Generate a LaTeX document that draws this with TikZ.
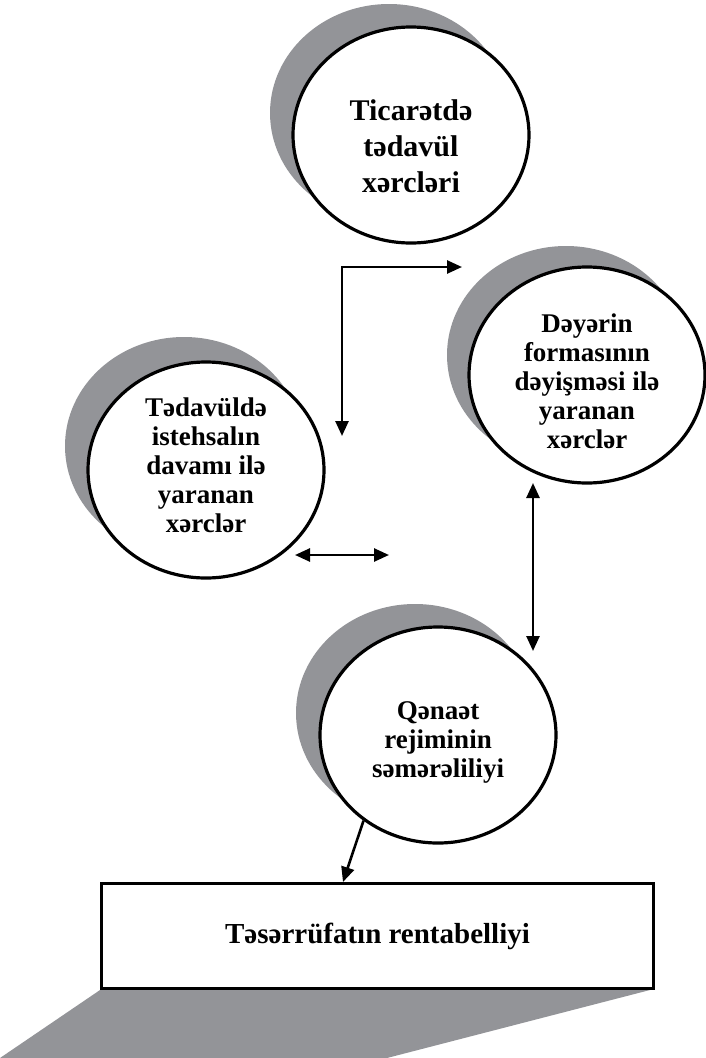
\documentclass[tikz,border=0pt]{standalone}
\usepackage{fontspec}
\setmainfont{Liberation Serif}
\usetikzlibrary{arrows.meta,shapes.geometric}
\definecolor{shadowgray}{RGB}{147,148,152}
\begin{document}
\begin{tikzpicture}[x=1pt,y=-1pt,
  shade/.style={fill=shadowgray, draw=none, ellipse, minimum width=238pt, minimum height=218pt, inner sep=0pt},
  bubble/.style={ellipse, draw, line width=3.2pt, fill=white, minimum width=236pt, minimum height=216pt, inner sep=0pt},
  txt/.style={align=center, font=\bfseries\fontsize{27}{29}\selectfont, inner sep=0pt},
  bigtxt/.style={align=center, font=\bfseries\fontsize{30}{36}\selectfont, inner sep=0pt},
  arr/.style={line width=2.6pt, -{Triangle[length=15pt,width=13pt]}},
  darr/.style={line width=2.6pt, {Triangle[length=15pt,width=13pt]}-{Triangle[length=15pt,width=13pt]}}]
\useasboundingbox (0,0) rectangle (705,1058);

% top circle
\node[shade] (s1) at (389,113) {};
\node[bubble] (c1) at (411,135) {};
\node[bigtxt] (t1) at (411,146) {Ticarətdə\\tədavül\\xərcləri};

% right circle
\node[shade] (s2) at (566,355) {};
\node[bubble] (c2) at (587,375) {};
\node[txt] (t2) at (587,381) {Dəyərin\\formasının\\dəyişməsi ilə\\yaranan\\xərclər};

% left circle
\node[shade] (s3) at (184,446) {};
\node[bubble] (c3) at (206,470) {};
\node[txt] (t3) at (206,465) {Tədavüldə\\istehsalın\\davamı ilə\\yaranan\\xərclər};

% bottom circle
\node[shade] (s4) at (415,713) {};
\node[bubble] (c4) at (438,735) {};
\node[txt] (t4) at (438,742) {Qənaət\\rejiminin\\səmərəliliyi};

% box
\node[draw, line width=3.2pt, fill=white, minimum width=552pt, minimum height=105pt, inner sep=0pt,
      font=\bfseries\fontsize{29}{34}\selectfont] (box) at (377.5,936) {Təsərrüfatın rentabelliyi};
\fill[shadowgray] (box.south west) -- (650,990) -- (387,1058) -- (0,1058) -- cycle;

% connectors
\coordinate (corner) at (342,267);
\coordinate (e1) at (462,267);
\coordinate (e2) at (342,436);
\draw[darr] (e2) -- (corner) -- (e1);

\coordinate (h1) at (295,555);
\coordinate (h2) at (389,555);
\draw[darr] (h1) -- (h2);

\coordinate (v1) at (533,483);
\coordinate (v2) at (533,651);
\draw[darr] (v1) -- (v2);

\coordinate (btip) at (343,882);
\draw[arr] (c4.229) -- (btip);
\end{tikzpicture}
\end{document}
